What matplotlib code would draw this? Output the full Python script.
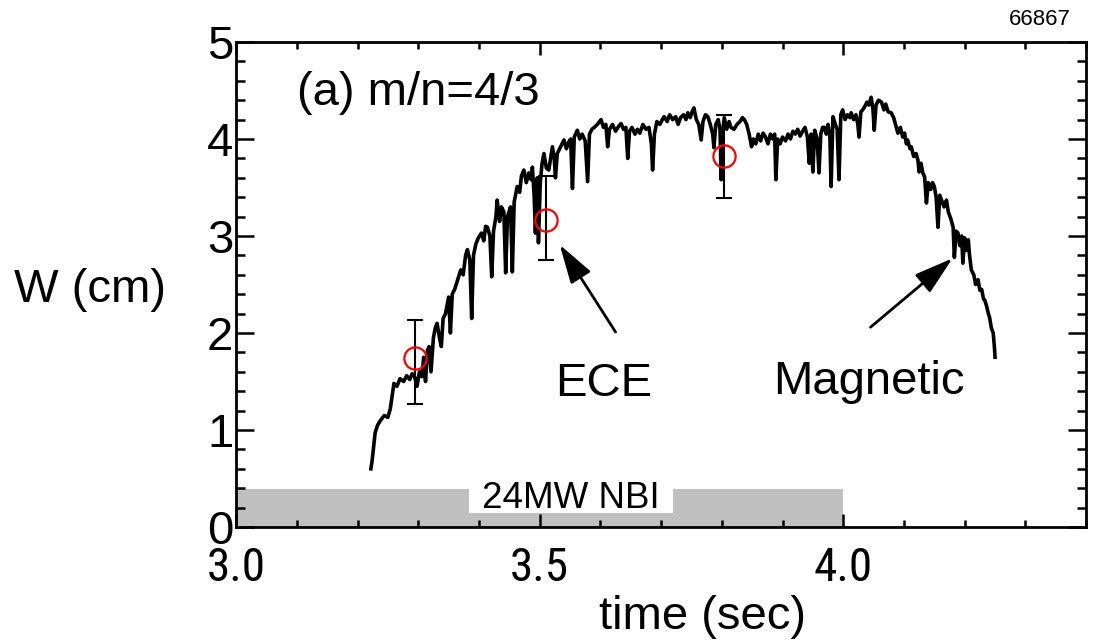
"""W(t) for m/n=4/3 island — magnetic trace vs ECE points"""

import matplotlib
matplotlib.use('Agg')
import matplotlib.pyplot as plt
from matplotlib.patches import Rectangle
from matplotlib.ticker import MultipleLocator

plt.rcParams['font.family'] = ['Liberation Sans', 'DejaVu Sans']
# condensed face for the x tick labels (first installed one is used)
narrow_family = ['Roboto Condensed', 'Archivo Narrow', 'Barlow Condensed', 'Liberation Sans']

# === data ===
# magnetic trace
mag_t = [3.222, 3.224, 3.229, 3.233, 3.238, 3.244, 3.250, 3.254, 3.257, 3.260,
         3.265, 3.270, 3.276, 3.281, 3.286, 3.290, 3.294, 3.298, 3.302, 3.306,
         3.309, 3.312, 3.315, 3.318, 3.321, 3.325, 3.328, 3.331, 3.335, 3.338,
         3.341, 3.345, 3.350, 3.353, 3.356, 3.360, 3.365, 3.370, 3.374, 3.378,
         3.381, 3.385, 3.388, 3.391, 3.395, 3.399, 3.404, 3.408, 3.411, 3.414,
         3.418, 3.421, 3.424, 3.428, 3.430, 3.434, 3.437, 3.441, 3.444, 3.447,
         3.452, 3.455, 3.458, 3.463, 3.467, 3.470, 3.474, 3.478, 3.482, 3.486,
         3.488, 3.491, 3.493, 3.496, 3.498, 3.501, 3.504, 3.507, 3.511, 3.515,
         3.518, 3.521, 3.524, 3.526, 3.529, 3.533, 3.537, 3.540, 3.544, 3.548,
         3.551, 3.554, 3.557, 3.562, 3.566, 3.570, 3.575, 3.579, 3.582, 3.586,
         3.590, 3.595, 3.601, 3.605, 3.609, 3.612, 3.615, 3.620, 3.625, 3.630,
         3.634, 3.638, 3.642, 3.645, 3.648, 3.652, 3.657, 3.661, 3.665, 3.670,
         3.675, 3.680, 3.684, 3.686, 3.689, 3.693, 3.698, 3.702, 3.705, 3.710,
         3.714, 3.719, 3.724, 3.728, 3.732, 3.737, 3.741, 3.744, 3.748, 3.751,
         3.754, 3.758, 3.762, 3.766, 3.769, 3.773, 3.777, 3.781, 3.785, 3.787,
         3.790, 3.794, 3.797, 3.799, 3.801, 3.804, 3.808, 3.812, 3.815, 3.820,
         3.825, 3.830, 3.834, 3.837, 3.841, 3.845, 3.849, 3.852, 3.856, 3.860,
         3.864, 3.868, 3.872, 3.876, 3.880, 3.884, 3.887, 3.889, 3.892, 3.896,
         3.900, 3.905, 3.909, 3.913, 3.917, 3.921, 3.925, 3.929, 3.933, 3.937,
         3.941, 3.944, 3.947, 3.950, 3.953, 3.957, 3.960, 3.963, 3.966, 3.969,
         3.972, 3.975, 3.978, 3.980, 3.983, 3.987, 3.990, 3.993, 3.996, 3.999,
         4.003, 4.007, 4.011, 4.013, 4.017, 4.021, 4.024, 4.026, 4.029, 4.032,
         4.035, 4.039, 4.042, 4.046, 4.049, 4.051, 4.054, 4.058, 4.063, 4.067,
         4.070, 4.074, 4.079, 4.083, 4.086, 4.090, 4.094, 4.098, 4.101, 4.104,
         4.106, 4.110, 4.112, 4.116, 4.120, 4.123, 4.125, 4.128, 4.131, 4.134,
         4.137, 4.140, 4.144, 4.147, 4.150, 4.153, 4.156, 4.159, 4.163, 4.166,
         4.170, 4.173, 4.177, 4.181, 4.183, 4.186, 4.189, 4.192, 4.195, 4.197,
         4.200, 4.203, 4.206, 4.208, 4.211, 4.215, 4.218, 4.222, 4.225, 4.228,
         4.231, 4.233, 4.236, 4.239, 4.241, 4.244, 4.247, 4.249, 4.250]
mag_w = [0.60, 0.68, 0.97, 1.05, 1.10, 1.15, 1.13, 1.22, 1.35, 1.48,
         1.45, 1.53, 1.50, 1.56, 1.52, 1.58, 1.55, 1.45, 1.60, 1.55,
         1.75, 1.50, 1.82, 1.86, 1.60, 1.95, 2.05, 2.10, 1.95, 1.86,
         2.15, 2.20, 2.37, 2.00, 2.40, 2.45, 2.55, 2.65, 2.60, 2.80,
         2.86, 2.75, 2.15, 2.80, 2.92, 2.98, 3.03, 2.95, 3.10, 3.09,
         3.00, 2.58, 3.05, 3.20, 3.37, 3.15, 3.30, 3.25, 2.62, 3.20,
         3.30, 2.63, 3.35, 3.51, 3.45, 3.62, 3.68, 3.55, 3.65, 3.58,
         3.71, 3.40, 3.03, 3.60, 2.93, 3.55, 3.75, 3.85, 3.70, 3.68,
         3.80, 3.92, 3.80, 3.60, 3.85, 3.90, 3.95, 3.99, 3.90, 3.97,
         4.00, 3.49, 4.02, 4.09, 4.00, 4.05, 3.98, 3.56, 4.05, 4.10,
         4.12, 4.15, 4.20, 4.12, 4.15, 3.92, 4.10, 4.15, 4.08, 4.13,
         4.16, 4.10, 4.12, 3.80, 4.08, 4.12, 4.05, 4.10, 4.06, 4.15,
         4.10, 4.12, 3.95, 3.68, 4.05, 4.18, 4.15, 4.20, 4.23, 4.18,
         4.25, 4.20, 4.23, 4.15, 4.22, 4.25, 4.20, 4.27, 4.22, 4.28,
         4.32, 4.20, 4.15, 3.99, 4.18, 4.25, 4.23, 4.15, 4.05, 3.91,
         4.15, 4.20, 4.10, 3.58, 4.05, 4.22, 4.10, 4.18, 4.12, 4.10,
         4.15, 4.18, 4.22, 4.20, 4.15, 4.05, 3.92, 4.00, 3.95, 4.05,
         3.98, 4.06, 4.02, 3.95, 4.05, 4.00, 4.05, 3.58, 4.00, 3.95,
         4.02, 3.98, 4.05, 4.00, 4.08, 4.05, 4.10, 4.03, 4.08, 4.12,
         4.02, 3.75, 4.05, 3.66, 4.09, 4.00, 3.65, 4.05, 4.12, 4.12,
         4.05, 4.15, 4.02, 3.51, 4.23, 4.15, 4.10, 3.58, 4.25, 4.30,
         4.20, 4.25, 4.22, 4.27, 4.20, 4.25, 4.15, 4.02, 4.28, 4.30,
         4.33, 4.38, 4.35, 4.43, 4.30, 4.09, 4.35, 4.40, 4.38, 4.30,
         4.36, 4.28, 4.27, 4.22, 4.15, 4.06, 4.12, 4.02, 4.06, 3.95,
         3.99, 3.90, 3.92, 3.82, 3.85, 3.78, 3.66, 3.75, 3.65, 3.61,
         3.34, 3.55, 3.48, 3.55, 3.51, 3.40, 3.09, 3.42, 3.35, 3.30,
         3.37, 3.25, 3.18, 3.09, 2.78, 3.05, 3.03, 2.90, 3.00, 2.72,
         2.98, 2.85, 2.96, 2.80, 2.65, 2.60, 2.50, 2.55, 2.44, 2.45,
         2.35, 2.34, 2.28, 2.20, 2.16, 2.05, 2.00, 1.85, 1.75]

# ECE points with error bars
ece_t = [3.295, 3.510, 3.804]
ece_w = [1.74, 3.16, 3.82]
ece_lo = [1.27, 2.75, 3.39]
ece_hi = [2.13, 3.62, 4.25]

# NBI heating window
nbi_start, nbi_end = 3.0, 4.0
nbi_level = 0.39
nbi_label = "24MW NBI"

shot = "66867"
xtick_vals = [3.0, 3.5, 4.0]
xtick_text = ["3.0", "3.5", "4.0"]

# === figure ===
fig = plt.figure(figsize=(10.93, 6.43), dpi=100)
ax = fig.add_axes([0.216, 0.1804, 0.7777, 0.7543])

ax.fill_between([nbi_start, nbi_end], 0, nbi_level, color='#c0c0c0', lw=0, zorder=1)
ax.add_patch(Rectangle((3.384, 0.144), 0.335, 0.33, facecolor='white',
                       edgecolor='none', zorder=1.5))
ax.text(3.551, 0.20, nbi_label, fontsize=26.5, ha='center', va='baseline', zorder=2)

ax.plot(mag_t, mag_w, color='black', lw=2.6, zorder=2)

yerr = [[w - lo for w, lo in zip(ece_w, ece_lo)],
        [hi - w for w, hi in zip(ece_w, ece_hi)]]
ax.errorbar(ece_t, ece_w, yerr=yerr, fmt='none', ecolor='black', elinewidth=1.5,
            capsize=5.5, capthick=1.5, zorder=3)
ax.plot(ece_t, ece_w, 'o', ms=16, mfc='none', mec='red', mew=1.6, zorder=4)

# arrows and labels
arrow_kw = dict(arrowstyle='-|>,head_length=0.6,head_width=0.18', mutation_scale=40,
                lw=2, color='black', shrinkA=0, shrinkB=0)
ax.annotate('', xy=(3.533, 2.91), xytext=(3.625, 2.01), arrowprops=arrow_kw, zorder=5)
ax.annotate('', xy=(4.180, 2.77), xytext=(4.045, 2.06), arrowprops=arrow_kw, zorder=5)
ax.text(3.606, 1.35, "ECE", fontsize=34, ha='center', va='baseline')
ax.text(4.043, 1.37, "Magnetic", fontsize=34, ha='center', va='baseline')
ax.text(3.10, 4.35, "(a) m/n=4/3", fontsize=34, ha='left', va='baseline')

ax.set_xlim(3.0, 4.4)
ax.set_ylim(0, 5)
ax.xaxis.set_minor_locator(MultipleLocator(0.1))
ax.yaxis.set_major_locator(MultipleLocator(1))
ax.yaxis.set_minor_locator(MultipleLocator(0.2))
ax.set_xticks(xtick_vals)
ax.set_xticklabels(xtick_text, family=narrow_family, fontsize=34)
ax.tick_params(axis='both', which='both', direction='in', top=True, right=True,
               width=1.8, color='black')
ax.tick_params(axis='y', which='major', length=13, labelsize=34, pad=2)
ax.tick_params(axis='y', which='minor', length=6.5)
ax.tick_params(axis='x', which='major', length=9.5, pad=14)
ax.tick_params(axis='x', which='minor', length=5)
for s in ax.spines.values():
    s.set_linewidth(2)

fig.text(0.082, 0.549, "W (cm)", fontsize=34, ha='center', va='center')
fig.text(0.643, 0.04, "time (sec)", fontsize=34, ha='center', va='center')
fig.text(0.951, 0.969, shot, fontsize=16, ha='center', va='center')

plt.savefig('out.png', dpi=100)
